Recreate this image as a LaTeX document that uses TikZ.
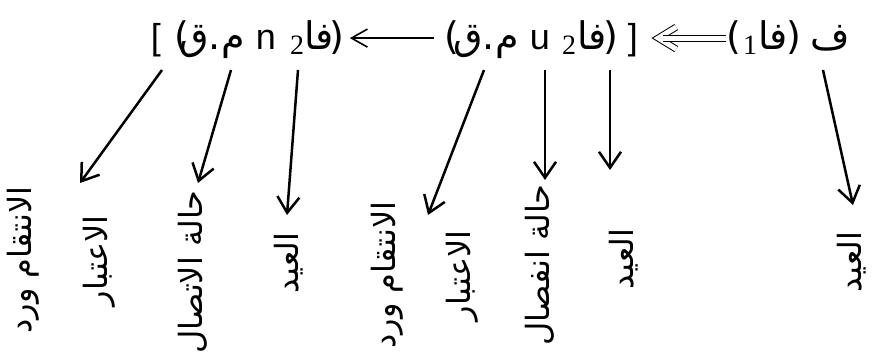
\documentclass[tikz,border=0pt]{standalone}
\usepackage{fontspec}
\setmainfont{Liberation Serif}
\newfontfamily\arabicfont[Script=Arabic]{DejaVu Sans}
\newfontfamily\plainsans{DejaVu Sans}
\newfontfamily\latinsans{Liberation Sans}
\TeXXeTstate=1
\usetikzlibrary{arrows.meta,calc}
\tikzset{
  artext/.style={font=\arabicfont\fontsize{19}{21}\selectfont, inner sep=0pt, anchor=base},
  paren/.style={font=\plainsans\fontsize{19}{21}\selectfont, inner sep=0pt, anchor=base},
  latext/.style={font=\latinsans\fontsize{18}{20}\selectfont, inner sep=0pt, anchor=base},
  subnum/.style={font=\fontsize{14}{16}\selectfont, inner sep=0pt, anchor=base},
  vlabel/.style={font=\arabicfont\fontsize{16}{18}\selectfont, inner sep=0pt, rotate=90},
  pointer/.style={-{Straight Barb[length=8pt,width=11pt]}, line width=1.25pt},
  longarrow/.style={-{Straight Barb[length=8pt,width=9pt]}, line width=0.8pt},
  dblline/.style={double, double distance=2.5pt, line width=0.5pt, line join=miter},
}
\begin{document}
\begin{tikzpicture}[x=0.5pt, y=-0.5pt]
  \useasboundingbox (0,0) rectangle (875,358);

  % top formula, left to right
  \node[latext] (lbr) at (156,50) {[};
  \node[paren] (pn1) at (182,50) {(};
  \node[artext] (mqn) at (212,50) {\beginR م.ق\endR};
  \node[latext] (cap) at (266,50) {n};
  \node[subnum] (sn2) at (297,55) {2};
  \node[artext] (fan) at (319,50) {\beginR فا\endR};
  \node[paren] (pn2) at (337,50) {)};
  \node[paren] (pu1) at (452,50) {(};
  \node[artext] (mqu) at (486,50) {\beginR م.ق\endR};
  \node[latext] (cup) at (540,50) {u};
  \node[subnum] (su2) at (569,55) {2};
  \node[artext] (fau) at (592,50) {\beginR فا\endR};
  \node[paren] (pu2) at (611,50) {)};
  \node[latext] (rbr) at (633,50) {]};
  \node[paren] (pf1) at (734,50) {(};
  \node[subnum] (sf1) at (750,55) {1};
  \node[artext] (faf) at (773,50) {\beginR فا\endR};
  \node[paren] (pf2) at (794,50) {)};
  \node[artext] (fa) at (830,50) {\beginR ف\endR};

  \draw[longarrow, shorten <=5pt, shorten >=2.5pt] (pu1.west) -- (pn2.east);

  % hollow double arrow
  \coordinate (ah) at ([xshift=-34pt]pf1.west);
  \draw[dblline] ($(ah)+(18,-11)$) -- (ah) -- ($(ah)+(18,11)$);
  \draw[dblline] ($(ah)+(5,0)$) -- (pf1.west);

  % vertical labels
  \node[vlabel] (l1) at (23,260) {\beginR الانتقام ورد\endR};
  \node[vlabel] (l2) at (99,261) {\beginR الاعتبار\endR};
  \node[vlabel] (l3) at (193,272) {\beginR حالة الاتصال\endR};
  \node[vlabel] (l4) at (289,263) {\beginR العيد\endR};
  \node[vlabel] (l5) at (387,275) {\beginR الانتقام ورد\endR};
  \node[vlabel] (l6) at (462,276) {\beginR الاعتبار\endR};
  \node[vlabel] (l7) at (540,265) {\beginR حالة انفصال\endR};
  \node[vlabel] (l8) at (624,259) {\beginR العيد\endR};
  \node[vlabel] (l9) at (852,262) {\beginR العيد\endR};

  % arrow ends
  \coordinate (s1) at (162,70);  \coordinate (e1) at (80,183);
  \coordinate (s2) at (231,70);  \coordinate (e2) at (198,183);
  \coordinate (s3) at (298,70);  \coordinate (e3) at (287,215);
  \coordinate (s4) at (484,70);  \coordinate (e4) at (428,215);
  \coordinate (s5) at (545,70);  \coordinate (e5) at (545,180);
  \coordinate (s6) at (610,70);  \coordinate (e6) at (610,170);
  \coordinate (s7) at (823,70);  \coordinate (e7) at (853,205);

  \foreach \i in {1,...,7}
    \draw[pointer] (s\i) -- (e\i);
\end{tikzpicture}
\end{document}
